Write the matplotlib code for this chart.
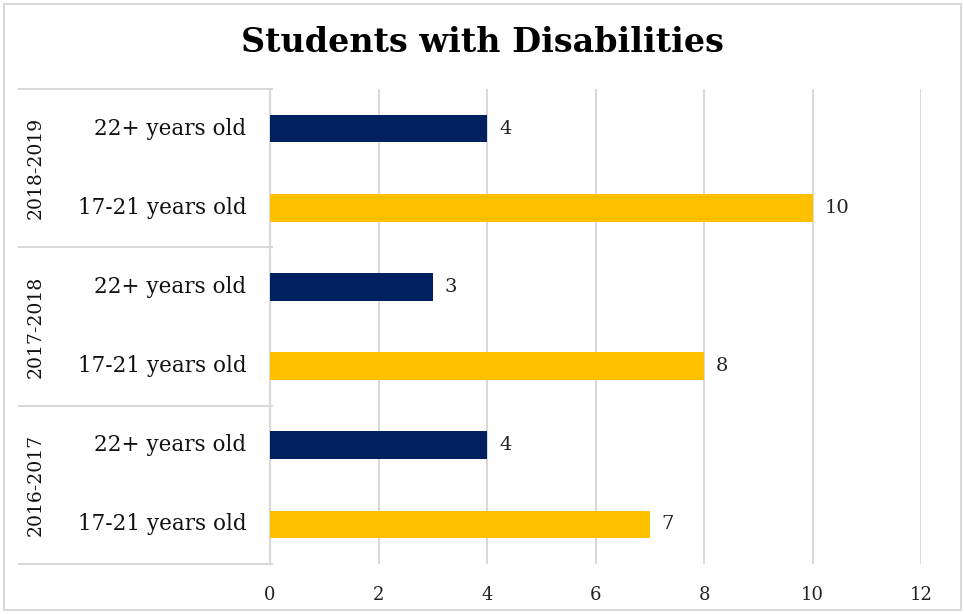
import matplotlib.pyplot as plt
from matplotlib.patches import Rectangle
from matplotlib.lines import Line2D

# school years (bottom to top) and age groups within each year
years = ["2016-2017", "2017-2018", "2018-2019"]
age_groups = ["17-21 years old", "22+ years old"]
counts_17_21 = [7, 8, 10]
counts_22_plus = [4, 3, 4]

navy = "#002060"
gold = "#FFC000"
grid_gray = "#d9d9d9"
serif = ["DejaVu Serif"]

fig = plt.figure(figsize=(9.64, 6.14), dpi=100)
ax = fig.add_axes([0.2801, 0.0815, 0.6753, 0.7736])

labels = []
values = []
colors = []
for i, year in enumerate(years):
    labels += age_groups
    values += [counts_17_21[i], counts_22_plus[i]]
    colors += [gold, navy]

pos = list(range(len(values)))
ax.barh(pos, values, height=0.35, color=colors, zorder=3)
for p, v in zip(pos, values):
    ax.text(v + 0.22, p, str(v), va="center", ha="left", fontsize=14,
            family=serif, color="#222222")

ax.set_xlim(0, 12)
ax.set_ylim(-0.5, len(values) - 0.5)
ax.set_xticks(range(0, 13, 2))
ax.grid(axis="x", color=grid_gray, linewidth=1.5, zorder=0)
ax.axvline(0, color=grid_gray, linewidth=1.5, zorder=1, clip_on=False)
ax.set_yticks([])
for s in ax.spines.values():
    s.set_visible(False)
ax.tick_params(axis="x", length=0, pad=16, labelsize=13)
for t in ax.get_xticklabels():
    t.set_family(serif)
    t.set_color("#222222")

# category table on the left of the plot
tr = ax.get_yaxis_transform()
x_left = -0.385
for p, lab in zip(pos, labels):
    ax.text(-0.036, p, lab, transform=tr, ha="right", va="center",
            fontsize=15.5, family=serif, color="#111111")
for i, year in enumerate(years):
    ax.text(-0.36, 2 * i + 0.5, year, transform=tr, rotation=90,
            ha="center", va="center", fontsize=13.5, family=serif,
            color="#111111")
for yb in [-0.5, 1.5, 3.5, 5.5]:
    ax.add_line(Line2D([x_left, 0.003], [yb, yb], transform=tr,
                       color=grid_gray, linewidth=1.5, clip_on=False))

fig.text(0.5, 0.93, "Students with Disabilities", ha="center", va="center",
         fontsize=24, fontweight="bold", family=serif)

# light frame around the chart
fig.add_artist(Rectangle((0.004, 0.006), 0.993, 0.988, transform=fig.transFigure,
                         fill=False, edgecolor=grid_gray, linewidth=1.5))

fig.savefig("out.png", dpi=100)
